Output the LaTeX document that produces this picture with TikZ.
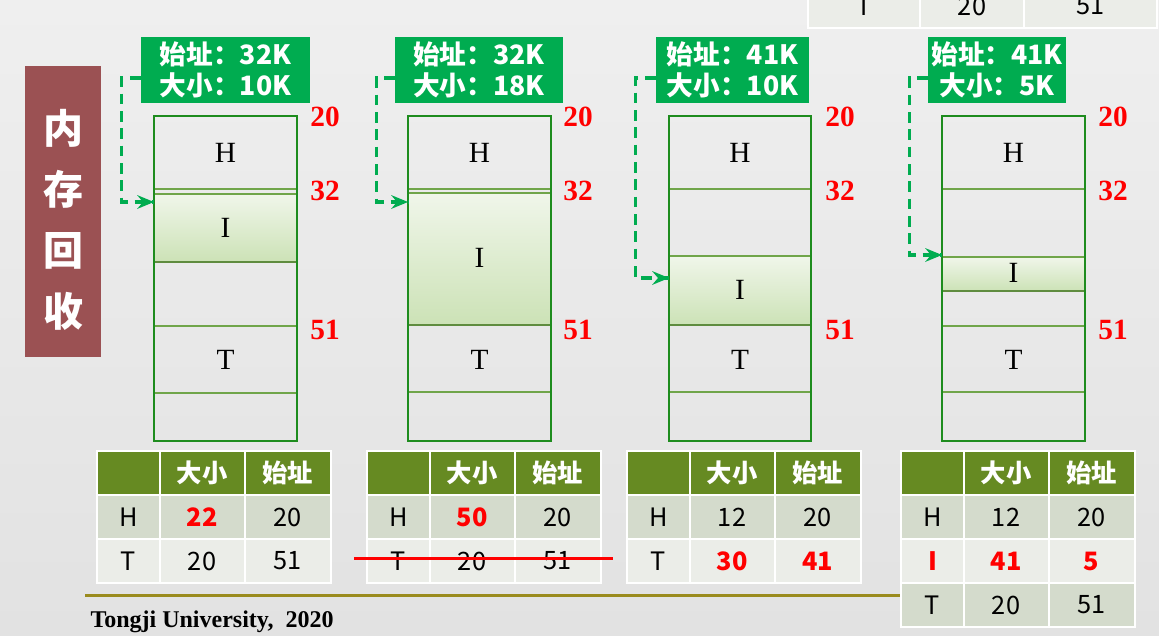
\documentclass[tikz,border=0pt]{standalone}
\usepackage{fontspec}
\setmainfont{Liberation Serif}
\newfontfamily\cjk{Noto Sans CJK SC}
\usetikzlibrary{positioning}

\definecolor{bgtop}{RGB}{239,239,239}
\definecolor{bgbot}{RGB}{226,226,226}
\definecolor{maroon}{RGB}{155,81,83}
\definecolor{infogreen}{RGB}{0,172,80}
\definecolor{framegreen}{RGB}{30,140,30}
\definecolor{linegreen}{RGB}{112,165,74}
\definecolor{itop}{RGB}{240,246,234}
\definecolor{ibot}{RGB}{204,226,182}
\definecolor{headolive}{RGB}{102,138,34}
\definecolor{rowdark}{RGB}{212,219,204}
\definecolor{rowlight}{RGB}{235,237,232}
\definecolor{footolive}{RGB}{154,139,30}

\tikzset{every picture/.style={line width=0.75pt}}
\tikzset{
  infobox/.style={fill=infogreen, text=white, align=center, inner sep=0pt, minimum height=49.5pt, font=\cjk\bfseries\fontsize{20}{23}\selectfont},
  memframe/.style={draw=framegreen, line width=1.5pt},
  memline/.style={draw=linegreen, line width=1pt},
  membase/.style={draw=linegreen!85!black, line width=2pt},
  ifill/.style={top color=itop, bottom color=ibot, draw=none},
  memlabel/.style={font=\fontsize{22}{22}\selectfont},
  addr/.style={text=red, font=\bfseries\fontsize{22}{22}\selectfont},
  link/.style={draw=infogreen, line width=2.3pt, dash pattern=on 8pt off 5pt},
  tip/.style={fill=infogreen, draw opacity=0},
  cell/.style={draw=white, line width=1.5pt, minimum height=33pt, inner sep=0pt, font=\cjk\fontsize{19}{19}\selectfont},
  hcell/.style={cell, fill=headolive, text=white, font=\cjk\bfseries\fontsize{19}{19}\selectfont},
  dcell/.style={cell, fill=rowdark},
  lcell/.style={cell, fill=rowlight},
  colA/.style={minimum width=47.25pt},
  colB/.style={minimum width=63.75pt},
  colC/.style={minimum width=64.5pt},
  hot/.style={text=red, font=\cjk\bfseries\fontsize{19}{19}\selectfont},
  strike/.style={draw=red, line width=2.25pt},
}

\begin{document}
\begin{tikzpicture}[x=0.75pt,y=0.75pt,yscale=-1,xscale=1]
	%background
	\useasboundingbox (0,0) rectangle (1159,635);
	\shade[top color=bgtop, bottom color=bgbot] (0,0) rectangle (1159,635);
	\clip (0,0) rectangle (1159,635);

	%row left over from the slide above
	\node[lcell, minimum width=84pt] (prevT) at (864,6) {T};
	\node[lcell, minimum width=78pt] (prevsize) at (972,6) {20};
	\node[lcell, minimum width=99.75pt] (prevstart) at (1090.5,6) {51};

	%title
	\node[fill=maroon, minimum width=57pt, minimum height=218.25pt, inner sep=0pt] (title) at (63,211.5) {};
	\node[text=white, align=center, font=\cjk\bfseries\fontsize{30}{45.75}\selectfont] (titletext) at (63,220) {内\\存\\回\\收};

	%Column 1
	\shade[ifill] (154,194) rectangle (297,262);
	\draw[memline] (154,189) -- (297,189) (154,194) -- (297,194) (154,326) -- (297,326) (154,393) -- (297,393);
	\draw[membase] (154,262) -- (297,262);
	\draw[memframe] (154,116) rectangle (297,441);
	\node[memlabel] (H1) at (225.5,153) {H};
	\node[memlabel] (I1) at (225.5,228) {I};
	\node[memlabel] (T1) at (225.5,360) {T};
	\node[addr] (top1) at (325,117) {20};
	\node[addr] (mid1) at (325,191) {32};
	\node[addr] (low1) at (325,330) {51};
	\node[infobox, minimum width=126.75pt] (info1) at (225.5,70) {始址：32K\\大小：10K};
	\coordinate (in1) at (154,202);
	\draw[link] ([yshift=6pt]info1.west) -- ++(-19,0) |- (in1);
	\draw[tip, shift={(in1)}, rotate=180] (17,-7) -- (0,0) -- (17,7) -- (11,0) -- cycle;

	%Column 2
	\shade[ifill] (408,193) rectangle (551,325);
	\draw[memline] (408,189) -- (551,189) (408,193) -- (551,193) (408,392) -- (551,392);
	\draw[membase] (408,325) -- (551,325);
	\draw[memframe] (408,116) rectangle (551,441);
	\node[memlabel] (H2) at (479.5,153) {H};
	\node[memlabel] (I2) at (479.5,258) {I};
	\node[memlabel] (T2) at (479.5,360) {T};
	\node[addr] (top2) at (578,117) {20};
	\node[addr] (mid2) at (578,191) {32};
	\node[addr] (low2) at (578,330) {51};
	\node[infobox, minimum width=126pt] (info2) at (479,70) {始址：32K\\大小：18K};
	\coordinate (in2) at (408,202);
	\draw[link] ([yshift=6pt]info2.west) -- ++(-18,0) |- (in2);
	\draw[tip, shift={(in2)}, rotate=180] (17,-7) -- (0,0) -- (17,7) -- (11,0) -- cycle;

	%Column 3
	\shade[ifill] (669,256) rectangle (811,325);
	\draw[memline] (669,189) -- (811,189) (669,256) -- (811,256) (669,392) -- (811,392);
	\draw[membase] (669,325) -- (811,325);
	\draw[memframe] (669,116) rectangle (811,441);
	\node[memlabel] (H3) at (740,153) {H};
	\node[memlabel] (I3) at (740,290) {I};
	\node[memlabel] (T3) at (740,360) {T};
	\node[addr] (top3) at (840,117) {20};
	\node[addr] (mid3) at (840,191) {32};
	\node[addr] (low3) at (840,330) {51};
	\node[infobox, minimum width=114.75pt] (info3) at (732.5,70) {始址：41K\\大小：10K};
	\coordinate (in3) at (669,278);
	\draw[link] ([yshift=6pt]info3.west) -- ++(-20,0) |- (in3);
	\draw[tip, shift={(in3)}, rotate=180] (17,-7) -- (0,0) -- (17,7) -- (11,0) -- cycle;

	%Column 4
	\shade[ifill] (942,257) rectangle (1085,291);
	\draw[memline] (942,189) -- (1085,189) (942,257) -- (1085,257) (942,326) -- (1085,326) (942,392) -- (1085,392);
	\draw[membase] (942,291) -- (1085,291);
	\draw[memframe] (942,116) rectangle (1085,441);
	\node[memlabel] (H4) at (1013.5,153) {H};
	\node[memlabel] (I4) at (1013.5,273) {I};
	\node[memlabel] (T4) at (1013.5,360) {T};
	\node[addr] (top4) at (1113,117) {20};
	\node[addr] (mid4) at (1113,191) {32};
	\node[addr] (low4) at (1113,330) {51};
	\node[infobox, minimum width=103.5pt] (info4) at (997,70) {始址：41K\\大小：5K};
	\coordinate (in4) at (942,255);
	\draw[link] ([yshift=6pt]info4.west) -- ++(-18,0) |- (in4);
	\draw[tip, shift={(in4)}, rotate=180] (17,-7) -- (0,0) -- (17,7) -- (11,0) -- cycle;

	%footer line
	\draw[footolive, line width=2.25pt] (85,595) -- (900,595);

	%Table 1
	\node[hcell, colA] (t1name) at (128.5,473) {};
	\node[hcell, colB] (t1size) at (202,473) {大小};
	\node[hcell, colC] (t1start) at (287.5,473) {始址};
	\node[dcell, colA] (t1H) at (128.5,517) {H};
	\node[dcell, colB, hot] (t1Hsize) at (202,517) {22};
	\node[dcell, colC] (t1Hstart) at (287.5,517) {20};
	\node[lcell, colA] (t1T) at (128.5,561) {T};
	\node[lcell, colB] (t1Tsize) at (202,561) {20};
	\node[lcell, colC] (t1Tstart) at (287.5,561) {51};

	%Table 2
	\node[hcell, colA] (t2name) at (398.5,473) {};
	\node[hcell, colB] (t2size) at (472,473) {大小};
	\node[hcell, colC] (t2start) at (557.5,473) {始址};
	\node[dcell, colA] (t2H) at (398.5,517) {H};
	\node[dcell, colB, hot] (t2Hsize) at (472,517) {50};
	\node[dcell, colC] (t2Hstart) at (557.5,517) {20};
	\node[lcell, colA] (t2T) at (398.5,561) {T};
	\node[lcell, colB] (t2Tsize) at (472,561) {20};
	\node[lcell, colC] (t2Tstart) at (557.5,561) {51};
	\draw[strike] ([xshift=-9pt,yshift=-2.25pt]t2T.west) -- ([xshift=8.25pt,yshift=-2.25pt]t2Tstart.east);

	%Table 3
	\node[hcell, colA] (t3name) at (658.5,473) {};
	\node[hcell, colB] (t3size) at (732,473) {大小};
	\node[hcell, colC] (t3start) at (817.5,473) {始址};
	\node[dcell, colA] (t3H) at (658.5,517) {H};
	\node[dcell, colB] (t3Hsize) at (732,517) {12};
	\node[dcell, colC] (t3Hstart) at (817.5,517) {20};
	\node[lcell, colA] (t3T) at (658.5,561) {T};
	\node[lcell, colB, hot] (t3Tsize) at (732,561) {30};
	\node[lcell, colC, hot] (t3Tstart) at (817.5,561) {41};

	%Table 4
	\node[hcell, colA] (t4name) at (932.5,473) {};
	\node[hcell, colB] (t4size) at (1006,473) {大小};
	\node[hcell, colC] (t4start) at (1091.5,473) {始址};
	\node[dcell, colA] (t4H) at (932.5,517) {H};
	\node[dcell, colB] (t4Hsize) at (1006,517) {12};
	\node[dcell, colC] (t4Hstart) at (1091.5,517) {20};
	\node[lcell, colA, hot] (t4I) at (932.5,561) {I};
	\node[lcell, colB, hot] (t4Isize) at (1006,561) {41};
	\node[lcell, colC, hot] (t4Istart) at (1091.5,561) {5};
	\node[dcell, colA] (t4T) at (932.5,605) {T};
	\node[dcell, colB] (t4Tsize) at (1006,605) {20};
	\node[dcell, colC] (t4Tstart) at (1091.5,605) {51};

	\node[anchor=west, inner sep=0pt, font=\bfseries\fontsize{18}{18}\selectfont] (footer) at (90,622) {Tongji University,\ \ 2020};
\end{tikzpicture}
\end{document}
